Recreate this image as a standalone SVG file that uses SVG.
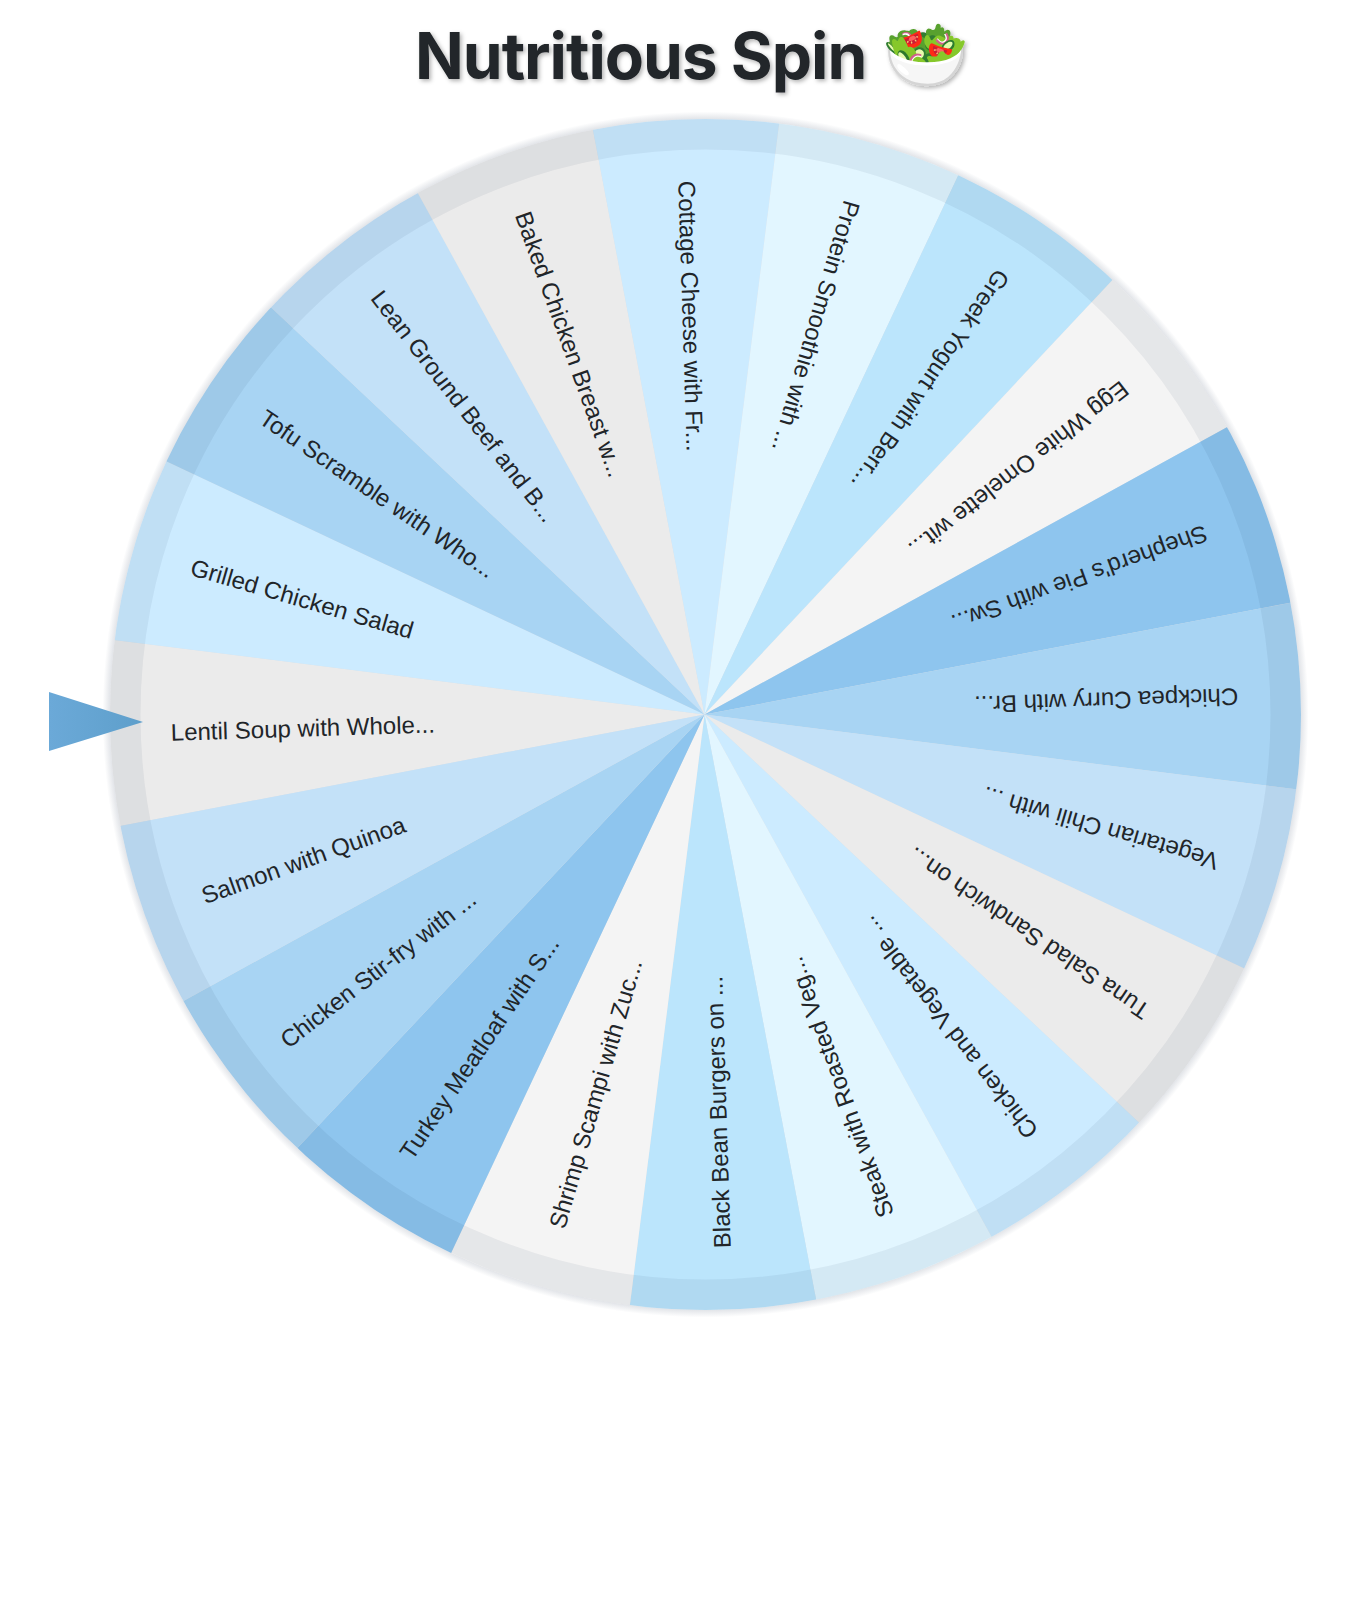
<svg xmlns="http://www.w3.org/2000/svg" width="1350" height="1598" viewBox="0 0 1350 1598">
<defs>
<path id="slice" d="M0 0L602.6 -95.44A610 610 0 0 1 602.6 95.44Z"/>
<clipPath id="disc"><circle cx="1" cy="0" r="595.5"/></clipPath>
<linearGradient id="pg" x1="0" x2="1" y1="0" y2="0"><stop offset="0" stop-color="#6BA9D8"/><stop offset="1" stop-color="#5E9FCB"/></linearGradient>
<radialGradient id="rim" gradientUnits="userSpaceOnUse" cx="1" cy="0" r="603"><stop offset="0.985" stop-color="#DCDFE4"/><stop offset="1" stop-color="#FFFFFF"/></radialGradient>
<filter id="ts" x="-10%" y="-30%" width="120%" height="160%"><feDropShadow dx="2" dy="2" stdDeviation="2" flood-color="#000" flood-opacity="0.3"/></filter>
</defs>
<style>
text{font-family:"Liberation Sans",Arial,sans-serif}
.t{font-size:24px;fill:#212529}
.title{font-family:Inter,"Liberation Sans",sans-serif;font-size:64px;font-weight:700;letter-spacing:-1px;fill:#212529}
.a{fill:#EBEBEB}.b{fill:#CCEBFF}.c{fill:#A8D4F3}.d{fill:#C3E1F8}.e{fill:#E2F6FF}.f{fill:#BBE5FC}.g{fill:#F4F4F4}.h{fill:#8EC5EE}
</style>
<rect width="1350" height="1598" fill="#fff"/>
<g id="title"><text class="title" x="415" y="79" filter="url(#ts)">Nutritious Spin <tspan font-family="'Noto Color Emoji','Noto Sans',sans-serif" font-size="70" dx="2">🥗</tspan></text></g>
<g id="wheel" transform="translate(704.5 714.5)">
<circle cx="1" r="603" fill="url(#rim)"/>
<g clip-path="url(#disc)">
<g id="n-lentil" transform="rotate(178.2)"><use href="#slice" class="a"/><text class="t" transform="rotate(180)" x="-534" y="9.5">Lentil Soup with Whole...</text></g>
<g id="n-grilled" transform="rotate(196.2)"><use href="#slice" class="b"/><text class="t" transform="rotate(180)" x="-534" y="9.5">Grilled Chicken Salad</text></g>
<g id="n-tofu" transform="rotate(214.2)"><use href="#slice" class="c"/><text class="t" transform="rotate(180)" x="-534" y="9.5">Tofu Scramble with Who...</text></g>
<g id="n-lean" transform="rotate(232.2)"><use href="#slice" class="d"/><text class="t" transform="rotate(180)" x="-534" y="9.5">Lean Ground Beef and B...</text></g>
<g id="n-baked" transform="rotate(250.2)"><use href="#slice" class="a"/><text class="t" transform="rotate(180)" x="-534" y="9.5">Baked Chicken Breast w...</text></g>
<g id="n-cottage" transform="rotate(268.2)"><use href="#slice" class="b"/><text class="t" transform="rotate(180)" x="-534" y="9.5">Cottage Cheese with Fr...</text></g>
<g id="n-protein" transform="rotate(286.2)"><use href="#slice" class="e"/><text class="t" transform="rotate(180)" x="-534" y="9.5">Protein Smoothie with ...</text></g>
<g id="n-greek" transform="rotate(304.2)"><use href="#slice" class="f"/><text class="t" transform="rotate(180)" x="-534" y="9.5">Greek Yogurt with Berr...</text></g>
<g id="n-egg" transform="rotate(322.2)"><use href="#slice" class="g"/><text class="t" transform="rotate(180)" x="-534" y="9.5">Egg White Omelette wit...</text></g>
<g id="n-shepherd" transform="rotate(340.2)"><use href="#slice" class="h"/><text class="t" transform="rotate(180)" x="-534" y="9.5">Shepherd's Pie with Sw...</text></g>
<g id="n-chickpea" transform="rotate(358.2)"><use href="#slice" class="c"/><text class="t" transform="rotate(180)" x="-534" y="9.5">Chickpea Curry with Br...</text></g>
<g id="n-veg" transform="rotate(16.2)"><use href="#slice" class="d"/><text class="t" transform="rotate(180)" x="-534" y="9.5">Vegetarian Chili with ...</text></g>
<g id="n-tuna" transform="rotate(34.2)"><use href="#slice" class="a"/><text class="t" transform="rotate(180)" x="-534" y="9.5">Tuna Salad Sandwich on...</text></g>
<g id="n-chickveg" transform="rotate(52.2)"><use href="#slice" class="b"/><text class="t" transform="rotate(180)" x="-534" y="9.5">Chicken and Vegetable ...</text></g>
<g id="n-steak" transform="rotate(70.2)"><use href="#slice" class="e"/><text class="t" transform="rotate(180)" x="-534" y="9.5">Steak with Roasted Veg...</text></g>
<g id="n-bean" transform="rotate(88.2)"><use href="#slice" class="f"/><text class="t" transform="rotate(180)" x="-534" y="9.5">Black Bean Burgers on ...</text></g>
<g id="n-shrimp" transform="rotate(106.2)"><use href="#slice" class="g"/><text class="t" transform="rotate(180)" x="-534" y="9.5">Shrimp Scampi with Zuc...</text></g>
<g id="n-turkey" transform="rotate(124.2)"><use href="#slice" class="h"/><text class="t" transform="rotate(180)" x="-534" y="9.5">Turkey Meatloaf with S...</text></g>
<g id="n-stirfry" transform="rotate(142.2)"><use href="#slice" class="c"/><text class="t" transform="rotate(180)" x="-534" y="9.5">Chicken Stir-fry with ...</text></g>
<g id="n-salmon" transform="rotate(160.2)"><use href="#slice" class="d"/><text class="t" transform="rotate(180)" x="-534" y="9.5">Salmon with Quinoa</text></g>
<circle id="ring" cx="1" r="580.25" fill="none" stroke="#002040" stroke-opacity="0.06" stroke-width="30.5"/>
</g>
</g>
<g id="pointer"><polygon points="49,692 49,751 143,722" fill="url(#pg)"/></g>
</svg>
